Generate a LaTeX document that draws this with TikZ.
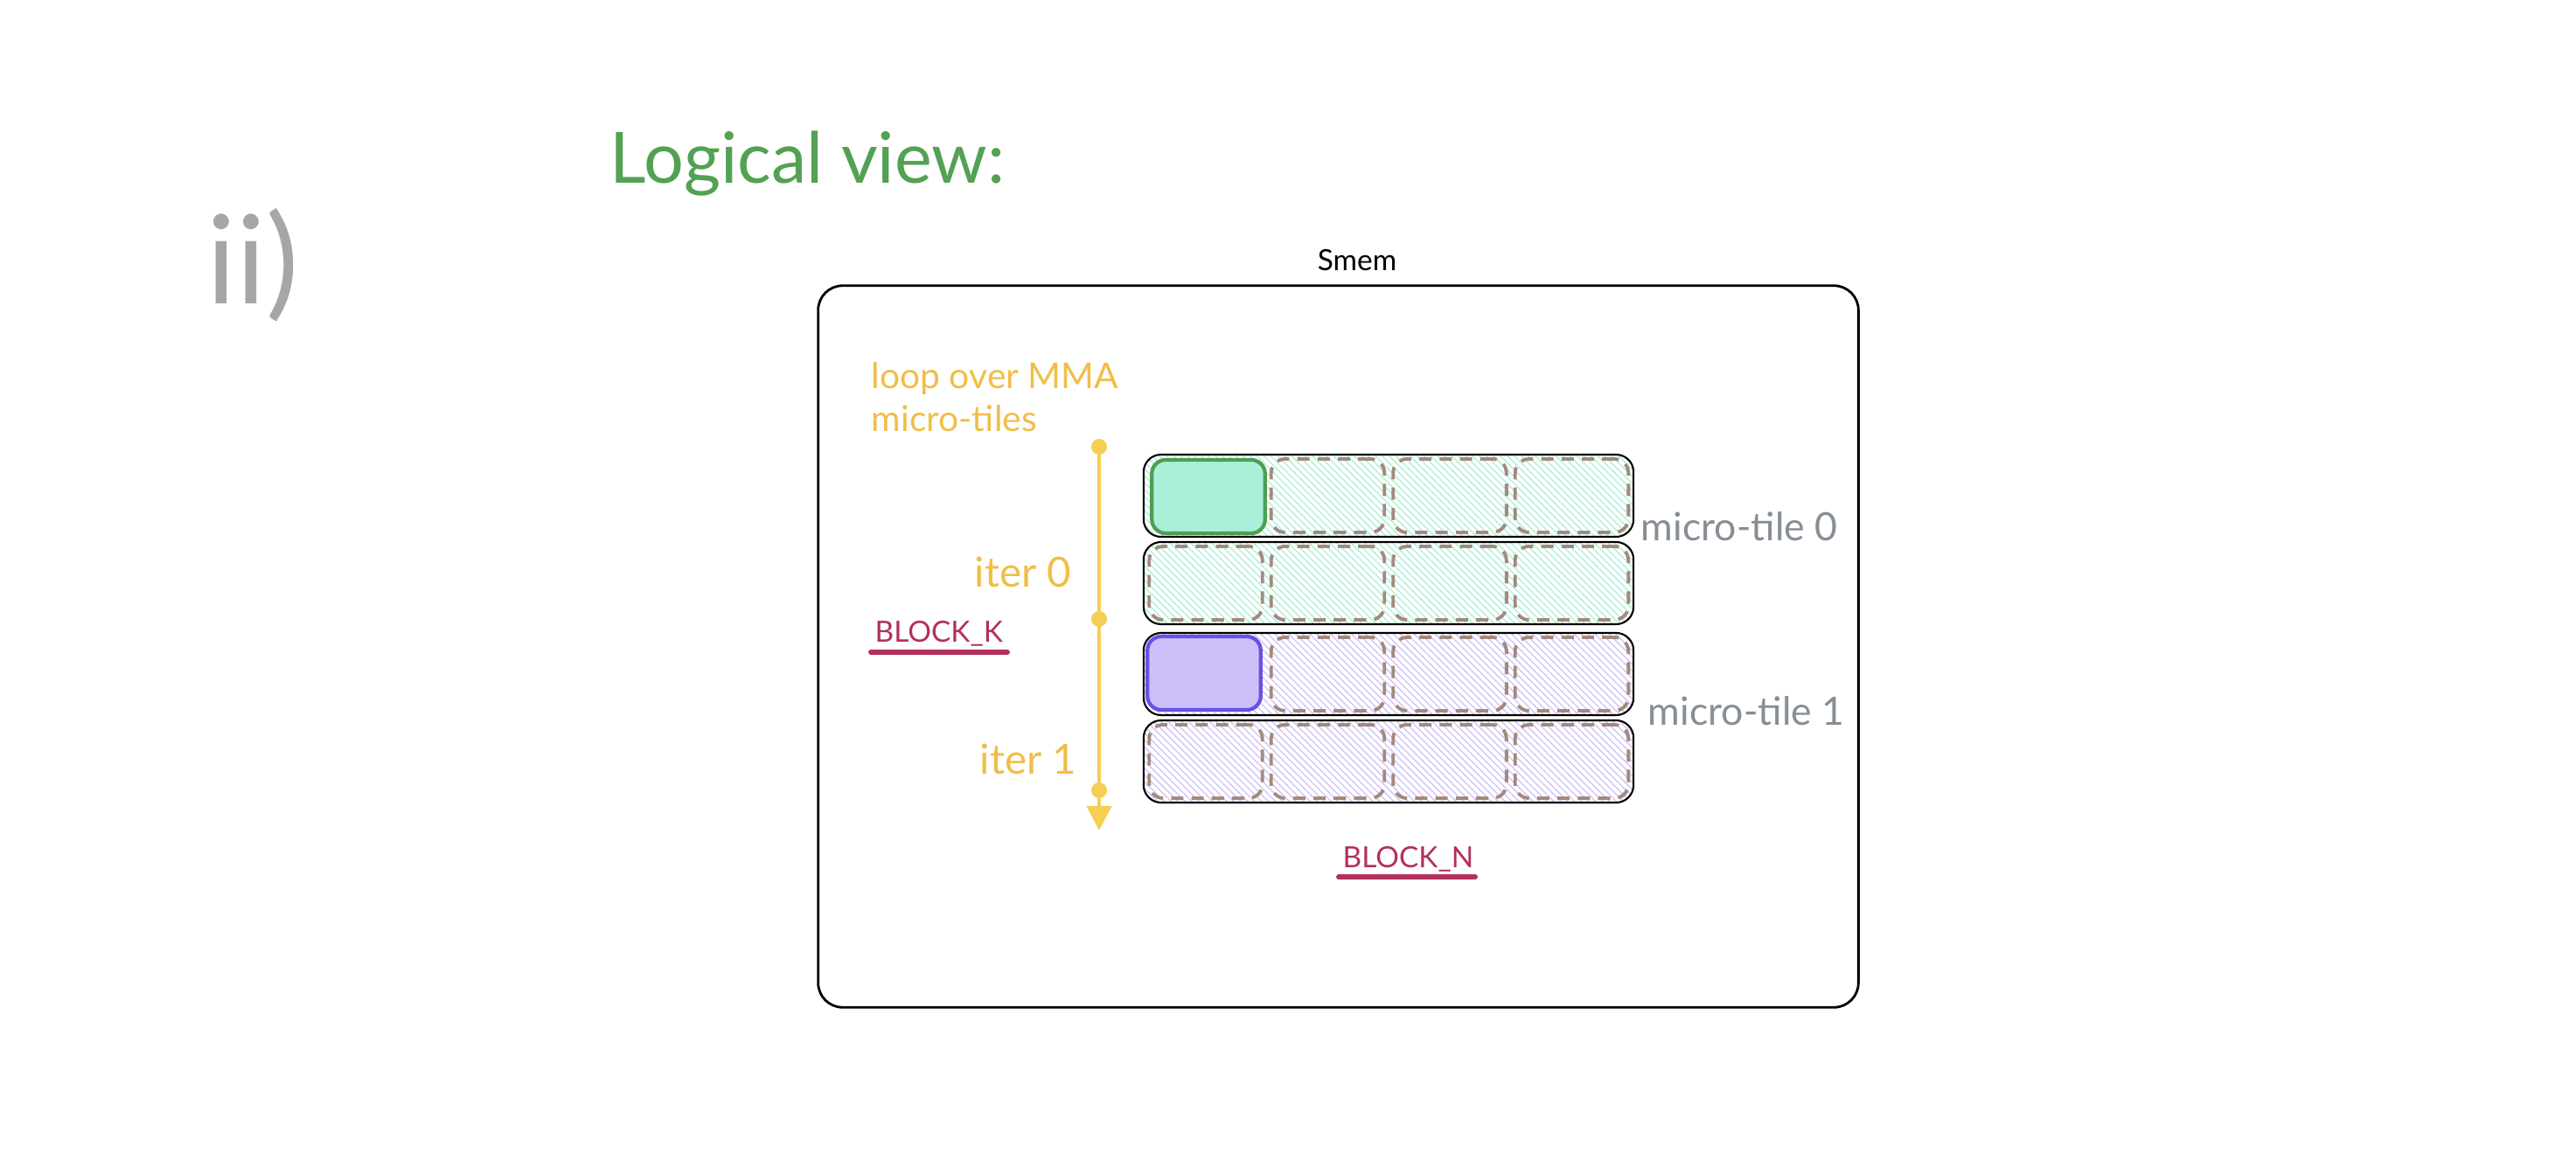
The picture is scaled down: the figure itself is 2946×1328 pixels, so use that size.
\documentclass[tikz,border=0pt]{standalone}
\usepackage{fontspec}
\setmainfont{Lato}
\usetikzlibrary{arrows.meta,patterns.meta}

\definecolor{titlegreen}{HTML}{53A153}
\definecolor{numgray}{HTML}{A6A6A6}
\definecolor{loopyellow}{HTML}{F0BE48}
\definecolor{arrowyellow}{HTML}{F5CF55}
\definecolor{blockred}{HTML}{B23259}
\definecolor{tilegray}{HTML}{868E96}
\definecolor{mintfill}{HTML}{A9F0D9}
\definecolor{mintedge}{HTML}{4E9E52}
\definecolor{mintline}{HTML}{A6EDD5}
\definecolor{lavfill}{HTML}{CDC0FA}
\definecolor{lavedge}{HTML}{6B4FE6}
\definecolor{lavline}{HTML}{CBC0F5}
\definecolor{cellbrown}{HTML}{A38A7D}

\begin{document}
\begin{tikzpicture}[x=0.01cm, y=-0.01cm,
    tilerow/.style={draw=black, line width=0.6pt, rounded corners=0.2cm, minimum width=5.6cm, minimum height=0.94cm, inner sep=0pt,
        pattern={Lines[angle=-45, distance=1.6pt, line width=0.35pt]}, pattern color=#1},
    tilecell/.style={draw=cellbrown, line width=1.1pt, dash pattern=on 4pt off 2.6pt, rounded corners=0.16cm,
        minimum width=1.295cm, minimum height=0.84cm, inner sep=0pt},
    mmacell/.style={tilecell, solid, line width=1.2pt},
    label/.style={inner sep=0pt},
    looptext/.style={label, text=loopyellow, font=\fontsize{11.6}{14}\selectfont},
    blocktext/.style={label, text=blockred, font=\fontsize{9.5}{11}\selectfont},
    tiletext/.style={label, text=tilegray, font=\fontsize{12.7}{14}\selectfont}]

    \useasboundingbox (0,0) rectangle (2946,1328);

    % headings
    \node[label, anchor=base west, text=numgray, font=\fontsize{40}{42}\selectfont] (part) at (236,348) {ii)};
    \node[label, anchor=base west, text=titlegreen, font=\fontsize{23}{26}\selectfont] (title) at (697,210) {Logical view:};

    % shared memory box
    \node[draw=black, line width=0.8pt, rounded corners=0.28cm, minimum width=11.89cm, minimum height=8.25cm] (smem) at (1530.5,739.5) {};
    \node[label, anchor=base, font=\fontsize{9.5}{11}\selectfont] (smemlabel) at (1552,310) {Smem};

    % rows of the tile, two per micro-tile
    \foreach \r/\y/\c in {1/567/mintline, 2/667/mintline, 3/771/lavline, 4/871/lavline} {
        \node[tilerow=\c] (row\r) at (1588,\y) {};
    }
    \foreach \r/\y in {1/567, 2/667, 3/771, 4/871} {
        \foreach \k in {0,...,3} {
            \ifnum\r\k=10 \else\ifnum\r\k=30 \else
            \node[tilecell] (cell\r\k) at (1379+139.5*\k,\y) {};
            \fi\fi
        }
    }
    \node[mmacell, draw=mintedge, fill=mintfill] (mma0) at (1382,568) {};
    \node[mmacell, draw=lavedge, fill=lavfill] (mma1) at (1377,770) {};

    \node[tiletext, anchor=base west] (tile0) at (1876,619) {micro-tile 0};
    \node[tiletext, anchor=base west] (tile1) at (1884,829) {micro-tile 1};

    % loop over the micro-tiles
    \coordinate (start) at (1257,511);
    \coordinate (step0) at (1257,708);
    \coordinate (step1) at (1257,904);
    \coordinate (stop) at (1257,950);
    \draw[arrowyellow, line width=1.4pt, -{Triangle[length=8pt, width=8pt]}] (start) -- (stop);
    \foreach \p in {start, step0, step1}
        \fill[arrowyellow] (\p) circle[radius=0.09cm];

    \node[looptext, anchor=base west] (loop1) at (996,445) {loop over MMA};
    \node[looptext, anchor=base west] (loop2) at (996,494) {micro-tiles};
    \node[looptext, anchor=base east, font=\fontsize{13.5}{14}\selectfont] (iter0) at (1226,671) {iter 0};
    \node[looptext, anchor=base east, font=\fontsize{13.5}{14}\selectfont] (iter1) at (1232,885) {iter 1};

    % block sizes
    \node[blocktext, anchor=base west] (blockk) at (1000,735) {BLOCK\_K};
    \draw[blockred, line width=1.7pt, line cap=round] (996,746) -- (1152,746);
    \node[blocktext, anchor=base west] (blockn) at (1535,992) {BLOCK\_N};
    \draw[blockred, line width=1.7pt, line cap=round] (1531,1003) -- (1687,1003);

\end{tikzpicture}
\end{document}
